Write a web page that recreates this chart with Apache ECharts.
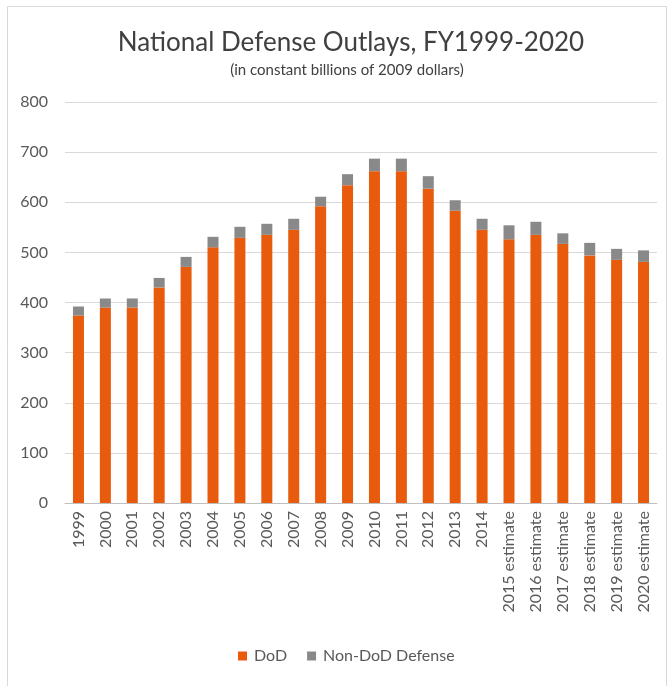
<!DOCTYPE html>
<html>
<head>
<meta charset="utf-8">
<script src="https://cdn.jsdelivr.net/npm/echarts@6/dist/echarts.min.js"></script>
<style>html,body{margin:0;padding:0;background:#fff;}#c{width:670px;height:686px;}</style>
</head>
<body>
<div id="c"></div>
<script>
const categories = ['1999','2000','2001','2002','2003','2004','2005','2006','2007','2008','2009','2010','2011','2012','2013','2014','2015 estimate','2016 estimate','2017 estimate','2018 estimate','2019 estimate','2020 estimate'];
const dod =    [374, 390, 390, 430, 471, 510, 529, 535, 545, 592, 634, 662, 662, 627, 583, 545, 526, 535, 517, 494, 485, 481];
const nonDod = [18, 18, 18, 19, 20, 21, 22, 22, 22, 19, 22, 25, 25, 25, 21, 22, 28, 26, 21, 25, 22, 23];
const yTicks = [0, 100, 200, 300, 400, 500, 600, 700, 800];

const font = 'Lato, "Open Sans", sans-serif';
const chart = echarts.init(document.getElementById('c'), null, {renderer: 'canvas'});
chart.setOption({
  animation: false,
  backgroundColor: '#fff',
  graphic: [{
    type: 'rect', left: 5, top: 4, z: -1,
    shape: {width: 659, height: 681},
    style: {fill: 'none', stroke: '#D9D9D9', lineWidth: 1}
  }],
  title: [{
    text: 'National Defense Outlays, FY1999-2020',
    left: 346, top: 25, textAlign: 'center',
    textStyle: {fontFamily: font, fontSize: 26, fontWeight: 'normal', color: '#404040'}
  }, {
    text: '(in constant billions of 2009 dollars)',
    left: 342, top: 58, textAlign: 'center',
    textStyle: {fontFamily: font, fontSize: 15, fontWeight: 'normal', color: '#404040'}
  }],
  legend: {
    bottom: 17, left: 233,
    itemWidth: 9, itemHeight: 9, itemGap: 20,
    icon: 'rect',
    textStyle: {fontFamily: font, fontSize: 16, color: '#595959', padding: [0, 0, 0, 2]},
    data: ['DoD', 'Non-DoD Defense']
  },
  grid: {left: 65, right: 13, top: 102, bottom: 183, containLabel: false},
  xAxis: {
    type: 'category', data: categories,
    axisLine: {lineStyle: {color: '#BFBFBF'}},
    axisTick: {show: false},
    axisLabel: {rotate: 90, interval: 0, fontFamily: font, fontSize: 16, color: '#595959', margin: 8}
  },
  yAxis: {
    type: 'value', min: yTicks[0], max: yTicks[yTicks.length - 1], interval: 100,
    axisLine: {show: false}, axisTick: {show: false},
    axisLabel: {fontFamily: font, fontSize: 16, color: '#595959', margin: 17},
    splitLine: {lineStyle: {color: '#D9D9D9'}}
  },
  series: [
    {name: 'DoD', type: 'bar', stack: 'a', data: dod, barWidth: 11, itemStyle: {color: '#E85A0C'}},
    {name: 'Non-DoD Defense', type: 'bar', stack: 'a', data: nonDod, barWidth: 11, itemStyle: {color: '#898989'}}
  ]
});
</script>
</body>
</html>
